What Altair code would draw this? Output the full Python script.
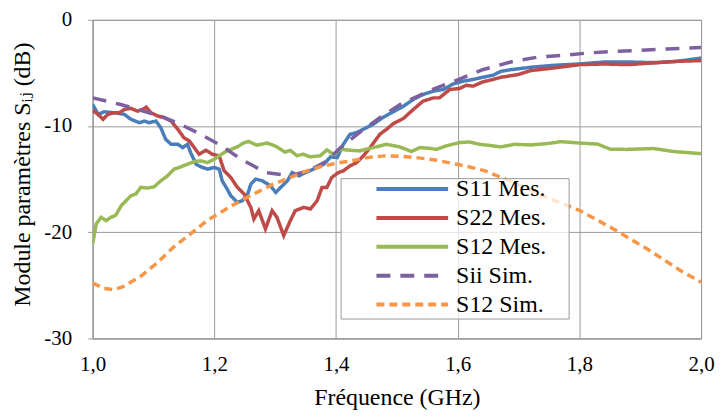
import altair as alt
import pandas as pd

series_names = ["S11 Mes.", "S22 Mes.", "S12 Mes.", "Sii Sim.", "S12 Sim."]
colors = ["#4A7EBB", "#BE4B48", "#98B954", "#7D60A0", "#F79646"]
dashes = [[1, 0], [1, 0], [1, 0], [14, 10], [8, 5]]

f_s11 = [1.0, 1.009, 1.019, 1.036, 1.052, 1.063, 1.077, 1.085, 1.093, 1.104, 1.112, 1.120, 1.129, 1.140,
         1.148, 1.156, 1.161, 1.170, 1.178, 1.189, 1.200, 1.208, 1.213, 1.221, 1.227, 1.238, 1.246, 1.254,
         1.260, 1.268, 1.279, 1.292, 1.301, 1.309, 1.320, 1.328, 1.339, 1.350, 1.363, 1.380, 1.391, 1.402,
         1.412, 1.423, 1.434, 1.445, 1.461, 1.478, 1.494, 1.511, 1.527, 1.543, 1.560, 1.576, 1.593, 1.609,
         1.625, 1.641, 1.658, 1.671, 1.688, 1.720, 1.759, 1.800, 1.841, 1.879, 1.922, 1.961, 2.0]
s11 = [-7.97, -8.9, -8.66, -8.75, -8.9, -9.37, -9.69, -9.53, -9.69, -9.53, -10.16, -11.25, -11.72, -11.72,
       -12.03, -11.72, -12.5, -13.6, -13.84, -14.06, -13.9, -14.06, -15.16, -15.93, -16.56, -17.19, -17.03, -16.56,
       -15.47, -15.0, -15.16, -15.62, -16.25, -15.78, -15.16, -14.38, -14.69, -14.38, -14.06, -13.59, -12.9, -12.97,
       -11.72, -10.78, -10.62, -10.3, -9.84, -9.16, -8.66, -8.13, -7.5, -7.03, -6.72, -6.56, -6.03, -5.78,
       -5.62, -5.41, -5.22, -4.85, -4.69, -4.47, -4.28, -4.16, -3.97, -3.97, -4.03, -3.91, -3.6]

f_s22 = [1.0, 1.009, 1.017, 1.025, 1.036, 1.044, 1.052, 1.063, 1.074, 1.082, 1.088, 1.096, 1.107, 1.118,
         1.129, 1.140, 1.150, 1.159, 1.167, 1.175, 1.186, 1.197, 1.208, 1.216, 1.227, 1.238, 1.249, 1.260,
         1.265, 1.273, 1.284, 1.295, 1.303, 1.314, 1.325, 1.333, 1.347, 1.358, 1.369, 1.377, 1.385, 1.393,
         1.404, 1.412, 1.423, 1.434, 1.445, 1.456, 1.472, 1.483, 1.494, 1.511, 1.527, 1.543, 1.560, 1.570,
         1.587, 1.603, 1.614, 1.625, 1.641, 1.658, 1.671, 1.699, 1.720, 1.759, 1.800, 1.841, 1.879, 1.922,
         1.961, 2.0]
s22 = [-8.53, -8.9, -9.37, -8.9, -8.75, -8.75, -8.44, -8.34, -8.6, -8.44, -8.22, -8.75, -9.06, -9.22,
       -9.53, -10.31, -11.1, -11.4, -12.03, -12.66, -12.28, -12.66, -12.81, -14.2, -14.84, -15.78, -16.4, -17.66,
       -18.75, -17.97, -19.69, -17.97, -18.6, -20.31, -18.9, -17.97, -17.66, -17.81, -17.03, -15.78, -15.78, -14.84,
       -14.38, -14.22, -13.75, -13.44, -12.81, -12.03, -10.78, -10.31, -9.78, -9.28, -8.44, -7.66, -7.35, -7.35,
       -6.56, -6.47, -6.16, -6.25, -5.85, -5.62, -5.41, -5.16, -4.78, -4.53, -4.22, -4.16, -4.22, -4.06,
       -3.91, -3.84]

f_s12m = [1.0, 1.006, 1.014, 1.022, 1.030, 1.038, 1.047, 1.055, 1.063, 1.071, 1.079, 1.090, 1.101, 1.112,
          1.123, 1.134, 1.145, 1.156, 1.167, 1.178, 1.189, 1.200, 1.208, 1.216, 1.227, 1.238, 1.248, 1.256,
          1.270, 1.287, 1.301, 1.316, 1.325, 1.336, 1.346, 1.357, 1.374, 1.385, 1.396, 1.407, 1.423, 1.439,
          1.461, 1.483, 1.505, 1.524, 1.538, 1.554, 1.565, 1.581, 1.603, 1.619, 1.636, 1.658, 1.671, 1.693,
          1.720, 1.748, 1.770, 1.800, 1.830, 1.851, 1.879, 1.922, 1.955, 2.0]
s12m = [-21.1, -19.2, -18.6, -18.9, -18.6, -18.4, -17.5, -17.03, -16.56, -16.4, -15.78, -15.84, -15.72, -15.16,
        -14.69, -14.06, -13.84, -13.59, -13.34, -13.28, -13.44, -13.12, -12.81, -12.5, -12.2, -11.95, -11.6, -11.45,
        -11.8, -11.6, -11.9, -12.45, -12.3, -12.8, -12.65, -12.9, -12.8, -12.25, -12.66, -12.19, -12.28, -12.34,
        -12.03, -11.72, -11.97, -12.4, -12.03, -12.1, -12.2, -11.87, -11.56, -11.5, -11.72, -11.87, -11.97, -11.72,
        -11.78, -11.65, -11.47, -11.6, -11.7, -12.19, -12.2, -12.12, -12.4, -12.6]

f_sii = [1.0, 1.046, 1.111, 1.139, 1.172, 1.21, 1.246, 1.285, 1.324, 1.355, 1.385, 1.408, 1.44, 1.475,
         1.51, 1.559, 1.597, 1.641, 1.687, 1.73, 1.774, 1.813, 1.857, 1.9, 1.944, 2.0]
sii = [-7.35, -7.97, -9.06, -9.69, -10.62, -11.8, -13.2, -14.38, -14.69, -14.2, -13.3, -12.0, -10.55, -9.1,
       -7.81, -6.56, -5.72, -4.7, -3.97, -3.53, -3.34, -3.13, -2.97, -2.88, -2.75, -2.6]

f_s12s = [1.0, 1.019, 1.035, 1.051, 1.079, 1.106, 1.133, 1.161, 1.188, 1.215, 1.243, 1.27, 1.297, 1.325,
          1.352, 1.379, 1.407, 1.426, 1.454, 1.481, 1.508, 1.536, 1.563, 1.59, 1.618, 1.645, 1.692, 1.746,
          1.801, 1.856, 1.911, 1.966, 2.0]
s12s = [-24.78, -25.3, -25.4, -25.1, -24.15, -22.9, -21.4, -20.15, -18.9, -17.97, -17.03, -16.25, -15.47, -14.84,
        -14.22, -13.75, -13.44, -13.28, -12.95, -12.81, -12.85, -13.0, -13.2, -13.5, -13.84, -14.22, -15.31, -16.72,
        -17.97, -19.69, -21.56, -23.6, -24.7]

x_ticks = [1.0, 1.2, 1.4, 1.6, 1.8, 2.0]
y_ticks = [-30, -20, -10, 0]

rows = []
for name, fs, vs in zip(series_names,
                        [f_s11, f_s22, f_s12m, f_sii, f_s12s],
                        [s11, s22, s12m, sii, s12s]):
    for i, (f, v) in enumerate(zip(fs, vs)):
        rows.append({"f": f, "db": v, "series": name, "i": i})
df = pd.DataFrame(rows)

FONT = "'Liberation Serif', 'Times New Roman', 'DejaVu Serif', serif"
GRID = "#9a9a9a"

# invisible right-side legend title only widens the legend frame
legend = alt.Legend(
    title="\u00a0", titleOrient="right", titlePadding=20, titleFontSize=2,
    orient="none", legendX=249, legendY=159,
    symbolType="stroke", symbolSize=5184, symbolStrokeWidth=4, clipHeight=18,
    labelFont=FONT, labelFontSize=24, labelColor="black", labelOffset=6, labelLimit=400,
    symbolOffset=32, padding=2, rowPadding=5,
    fillColor="rgba(255,255,255,0.75)", strokeColor=GRID,
)

chart = alt.Chart(df).mark_line(strokeWidth=3.5, clip=True).encode(
    x=alt.X("f:Q",
            scale=alt.Scale(domain=[1, 2], nice=False, zero=False),
            axis=alt.Axis(values=x_ticks, title="Fréquence (GHz)",
                          labelExpr="replace(format(datum.value, '.1f'), '.', ',')",
                          labelFlush=False, labelOverlap=False,
                          ticks=False, labelPadding=15, titlePadding=11)),
    y=alt.Y("db:Q",
            scale=alt.Scale(domain=[-30, 0], nice=False),
            axis=alt.Axis(values=y_ticks, title="Module paramètres Sᵢⱼ (dB)",
                          labelExpr="'' + datum.value", labelFlush=False, labelOverlap=False,
                          tickSize=5, labelPadding=16, titlePadding=9, titleY=155)),
    color=alt.Color("series:N", scale=alt.Scale(domain=series_names, range=colors), legend=legend),
    strokeDash=alt.StrokeDash("series:N", scale=alt.Scale(domain=series_names, range=dashes), legend=legend),
    order="i:Q",
).properties(
    width=611, height=320,
    autosize=alt.AutoSizeParams(type="none"),
    padding={"left": 85, "top": 11, "right": 14, "bottom": 73},
).configure_axis(
    labelFont=FONT, labelFontSize=21, labelColor="black",
    titleFont=FONT, titleFontSize=24, titleFontWeight="normal", titleColor="black",
    gridColor=GRID, gridWidth=1, gridOpacity=1,
    domainColor=GRID, tickColor=GRID,
).configure_view(
    stroke=GRID, strokeWidth=1,
)

chart.save("out.html", embed_options={"renderer": "svg", "actions": False})
